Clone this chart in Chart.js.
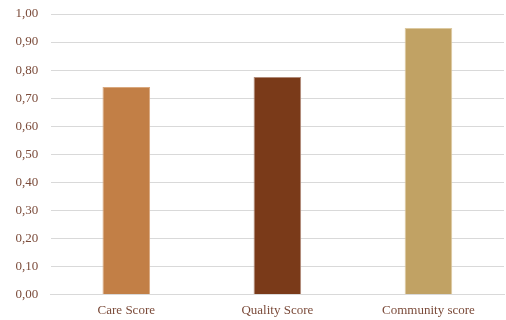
<!DOCTYPE html>
<html>
<head>
<meta charset="utf-8">
<script src="https://cdn.jsdelivr.net/npm/chart.js@4.4.1/dist/chart.umd.min.js"></script>
<style>
  html, body { margin: 0; padding: 0; background: #ffffff; }
  #wrap { width: 506px; height: 320px; }
</style>
</head>
<body>
<div id="wrap"><canvas id="c" width="506" height="320"></canvas></div>
<script>
const categories = ['Care Score', 'Quality Score', 'Community score'];
const scores = [0.74, 0.775, 0.95];
const barColors = ['#C27F46', '#7A3A19', '#C1A264'];
const barEdges = ['#D9A87E', '#B08A78', '#DCC9A0'];

const textColor = '#7B4B3A';
const family = '"Liberation Serif", "Times New Roman", serif';

new Chart(document.getElementById('c'), {
  type: 'bar',
  data: {
    labels: categories,
    datasets: [{
      data: scores,
      backgroundColor: barColors,
      borderColor: barEdges,
      borderWidth: 1,
      barPercentage: 0.315,
      categoryPercentage: 1.0
    }]
  },
  options: {
    responsive: false,
    animation: false,
    devicePixelRatio: 1,
    layout: { padding: { top: 0, right: 2, bottom: -6, left: 8 } },
    plugins: { legend: { display: false }, tooltip: { enabled: false } },
    scales: {
      x: {
        grid: { display: false, drawTicks: false },
        border: { display: true, color: '#D9D9D9', width: 1 },
        ticks: { color: textColor, font: { family, size: 13 }, padding: 8 }
      },
      y: {
        min: 0,
        max: 1,
        ticks: {
          stepSize: 0.1,
          color: textColor,
          font: { family, size: 13, lineHeight: 1 },
          padding: 7.5,
          callback: v => v.toFixed(2).replace('.', ',')
        },
        grid: { color: '#D9D9D9', lineWidth: 1, drawTicks: true, tickLength: 5, tickColor: 'rgba(0,0,0,0)' },
        border: { display: false }
      }
    }
  }
});
</script>
</body>
</html>
